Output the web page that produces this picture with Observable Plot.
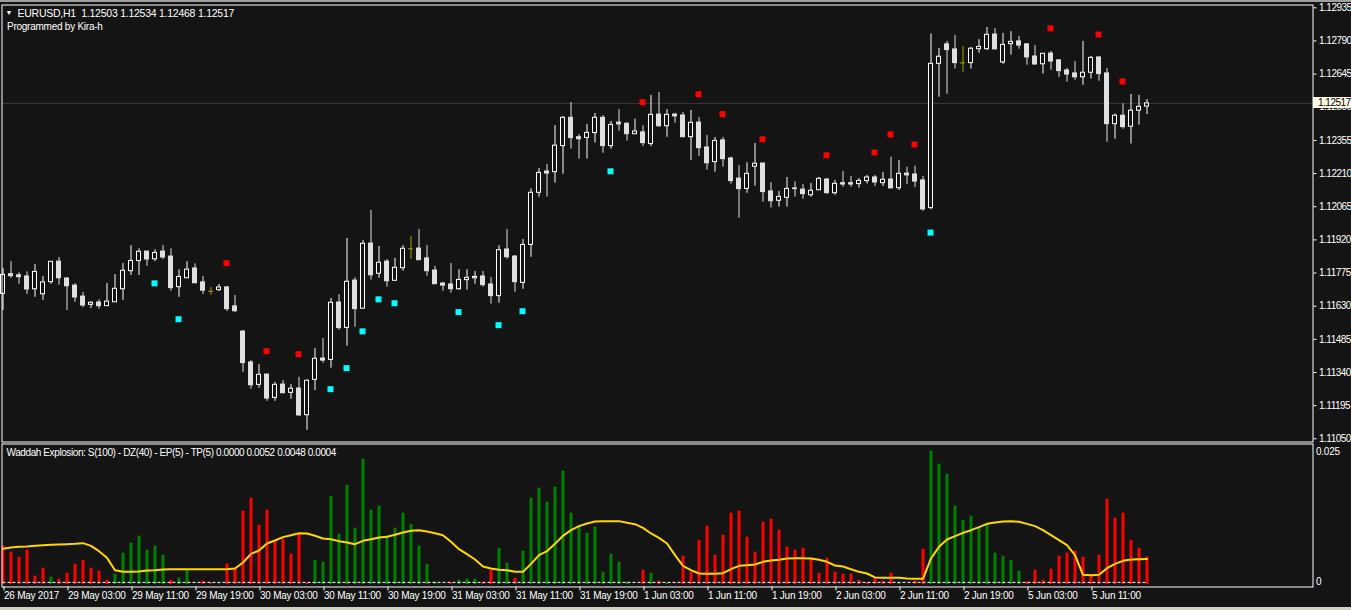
<!DOCTYPE html>
<html><head><meta charset="utf-8">
<script src="https://cdn.jsdelivr.net/npm/d3@7"></script>
<script src="https://cdn.jsdelivr.net/npm/@observablehq/plot@0.6"></script>
<style>
html,body{margin:0;padding:0;background:#141414;}
#wrap{position:relative;width:1351px;height:610px;overflow:hidden;background:#141414;}
#wrap svg{position:absolute;left:0;overflow:visible;}
#wrap svg text{letter-spacing:-0.25px;}
.topbar{position:absolute;left:0;top:0;width:1351px;height:2px;background:#a0a0a0;}
.bottombar{position:absolute;left:0;top:607px;width:1351px;height:3px;background:#d4d0c8;}
#pricetag{position:absolute;left:1313px;width:33px;height:11px;background:#fff8e4;color:#000;font-size:10px;line-height:11px;padding-left:5px;white-space:nowrap;letter-spacing:-0.5px;}
</style></head>
<body><div id="wrap"><div class="topbar"></div><div class="bottombar"></div></div>
<script>
// ---------- data ----------
const symbol = "EURUSD", period = "H1";
const open = [1.11684,1.11770,1.11765,1.11760,1.11704,1.11682,1.11735,1.11825,1.11751,1.11720,
1.11672,1.11636,1.11646,1.11630,1.11647,1.11704,1.11783,1.11827,1.11869,1.11835,
1.11869,1.11847,1.11713,1.11752,1.11795,1.11734,1.11695,1.11700,1.11712,1.11629,
1.11519,1.11384,1.11286,1.11331,1.11229,1.11287,1.11251,1.11270,1.11153,1.11308,
1.11401,1.11395,1.11646,1.11535,1.11742,1.11619,1.11904,1.11772,1.11825,1.11741,
1.11796,1.11881,1.11882,1.11839,1.11786,1.11729,1.11725,1.11704,1.11744,1.11752,
1.11760,1.11725,1.11674,1.11878,1.11847,1.11732,1.11898,1.12126,1.12219,1.12216,
1.12330,1.12454,1.12369,1.12366,1.12387,1.12454,1.12330,1.12433,1.12428,1.12382,
1.12390,1.12339,1.12468,1.12417,1.12468,1.12464,1.12369,1.12433,1.12324,1.12260,
1.12355,1.12276,1.12188,1.12143,1.12240,1.12254,1.12132,1.12091,1.12104,1.12145,
1.12140,1.12115,1.12137,1.12184,1.12124,1.12168,1.12168,1.12164,1.12177,1.12193,
1.12168,1.12184,1.12146,1.12210,1.12206,1.12180,1.12059,1.12690,1.12775,1.12753,
1.12694,1.12693,1.12754,1.12754,1.12818,1.12696,1.12776,1.12788,1.12775,1.12722,
1.12688,1.12735,1.12705,1.12661,1.12648,1.12631,1.12651,1.12718,1.12648,1.12426,
1.12463,1.12415,1.12485,1.12503];
const high = [1.11794,1.11825,1.11776,1.11780,1.11812,1.11760,1.11824,1.11843,1.11755,1.11728,
1.11690,1.11649,1.11658,1.11729,1.11768,1.11817,1.11895,1.11881,1.11869,1.11877,
1.11895,1.11881,1.11789,1.11825,1.11815,1.11760,1.11712,1.11725,1.11716,1.11677,
1.11524,1.11392,1.11375,1.11331,1.11297,1.11305,1.11287,1.11319,1.11308,1.11445,
1.11489,1.11664,1.11681,1.11926,1.11754,1.11917,1.12049,1.11891,1.11834,1.11839,
1.11895,1.11935,1.11965,1.11895,1.11804,1.11734,1.11817,1.11790,1.11790,1.11782,
1.11782,1.11755,1.11895,1.11965,1.11852,1.11922,1.12143,1.12232,1.12250,1.12420,
1.12460,1.12521,1.12381,1.12425,1.12473,1.12464,1.12438,1.12490,1.12432,1.12448,
1.12419,1.12552,1.12565,1.12490,1.12473,1.12477,1.12486,1.12455,1.12377,1.12368,
1.12368,1.12282,1.12245,1.12257,1.12342,1.12255,1.12171,1.12132,1.12193,1.12174,
1.12162,1.12167,1.12193,1.12188,1.12180,1.12219,1.12197,1.12188,1.12202,1.12202,
1.12215,1.12282,1.12267,1.12238,1.12242,1.12197,1.12821,1.12757,1.12788,1.12814,
1.12766,1.12761,1.12796,1.12849,1.12844,1.12823,1.12831,1.12810,1.12779,1.12770,
1.12735,1.12744,1.12709,1.12670,1.12700,1.12788,1.12722,1.12718,1.12670,1.12471,
1.12515,1.12556,1.12552,1.12534];
const low = [1.11611,1.11752,1.11726,1.11681,1.11669,1.11655,1.11726,1.11722,1.11611,1.11647,
1.11624,1.11620,1.11617,1.11630,1.11647,1.11655,1.11764,1.11764,1.11804,1.11825,
1.11834,1.11695,1.11669,1.11752,1.11730,1.11681,1.11677,1.11694,1.11607,1.11602,
1.11341,1.11267,1.11271,1.11214,1.11214,1.11249,1.11223,1.11147,1.11087,1.11261,
1.11381,1.11359,1.11525,1.11455,1.11538,1.11619,1.11744,1.11752,1.11713,1.11741,
1.11783,1.11835,1.11831,1.11761,1.11726,1.11695,1.11687,1.11700,1.11700,1.11726,
1.11713,1.11639,1.11643,1.11835,1.11691,1.11704,1.11844,1.12107,1.12107,1.12168,
1.12207,1.12317,1.12273,1.12273,1.12343,1.12299,1.12317,1.12395,1.12352,1.12382,
1.12328,1.12328,1.12412,1.12369,1.12430,1.12369,1.12268,1.12285,1.12225,1.12216,
1.12238,1.12164,1.12015,1.12124,1.12155,1.12085,1.12059,1.12063,1.12063,1.12107,
1.12098,1.12107,1.12137,1.12120,1.12115,1.12150,1.12150,1.12146,1.12164,1.12153,
1.12153,1.12145,1.12136,1.12162,1.12149,1.12045,1.12052,1.12544,1.12557,1.12667,
1.12653,1.12667,1.12736,1.12748,1.12753,1.12688,1.12728,1.12754,1.12684,1.12683,
1.12645,1.12662,1.12631,1.12610,1.12618,1.12596,1.12623,1.12614,1.12347,1.12360,
1.12404,1.12339,1.12422,1.12468];
const close = [1.11767,1.11761,1.11757,1.11703,1.11780,1.11734,1.11824,1.11752,1.11717,1.11668,
1.11633,1.11645,1.11630,1.11650,1.11706,1.11785,1.11828,1.11868,1.11834,1.11863,
1.11843,1.11709,1.11758,1.11790,1.11730,1.11698,1.11695,1.11712,1.11617,1.11608,
1.11381,1.11284,1.11330,1.11226,1.11286,1.11249,1.11269,1.11152,1.11304,1.11400,
1.11392,1.11645,1.11534,1.11737,1.11617,1.11903,1.11765,1.11820,1.11739,1.11798,
1.11881,1.11881,1.11831,1.11783,1.11726,1.11720,1.11704,1.11745,1.11754,1.11758,
1.11722,1.11674,1.11875,1.11844,1.11735,1.11898,1.12126,1.12213,1.12210,1.12332,
1.12454,1.12365,1.12360,1.12388,1.12454,1.12330,1.12423,1.12425,1.12382,1.12394,
1.12343,1.12467,1.12417,1.12467,1.12460,1.12369,1.12432,1.12321,1.12255,1.12353,
1.12273,1.12177,1.12142,1.12209,1.12253,1.12129,1.12089,1.12108,1.12143,1.12142,
1.12120,1.12135,1.12187,1.12124,1.12165,1.12162,1.12162,1.12178,1.12193,1.12171,
1.12183,1.12145,1.12209,1.12202,1.12175,1.12053,1.12690,1.12721,1.12750,1.12693,
1.12694,1.12756,1.12764,1.12817,1.12753,1.12773,1.12786,1.12770,1.12718,1.12687,
1.12734,1.12700,1.12658,1.12643,1.12631,1.12651,1.12716,1.12645,1.12426,1.12463,
1.12413,1.12485,1.12502,1.12517];

// signal squares (bar index, price)
const sellIdx = [28,33,37,80,87,90,95,103,109,111,114,131,137,140];
const sellPrice = [1.11818,1.11433,1.11420,1.12522,1.12557,1.12470,1.12360,1.12290,1.12302,1.12381,1.12337,1.12845,1.12818,1.12613];
const buyIdx = [19,22,41,43,45,47,49,57,62,65,76,116];
const buyPrice = [1.11730,1.11573,1.11267,1.11359,1.11520,1.11660,1.11643,1.11604,1.11547,1.11608,1.12220,1.11952];

// Waddah Attar Explosion
const trendUp = [0,0,0,0,0,0,0.00138,0,0,0,
0,0,0,0,0.00194,0.00589,0.00777,0.00909,0.00645,0.00721,
0.00551,0,0.00119,0.00288,0,0,0,0.0001,0,0,
0,0,0,0,0,0,0,0,0,0.00457,
0.0042,0.0166,0.00946,0.01867,0.01059,0.02356,0.01397,0.01473,0.00909,0.01059,
0.01341,0.01134,0.00721,0.00382,0.00044,0,0,0.00081,0.001,0.001,
0,0,0.00683,0.00401,0,0.00627,0.01623,0.01811,0.01548,0.0183,
0.0213,0.01341,0.01097,0.00965,0.01078,0.00232,0.0057,0.0042,0.00044,0,
0,0.00213,0,0.00025,0,0,0,0,0,0,
0,0,0,0,0,0,0,0,0,0,
0,0,0,0,0,0,0,0,0,0,
0,0,0.00025,0,0,0,0.02506,0.02262,0.02074,0.01473,
0.01209,0.01285,0.01078,0.01134,0.00589,0.00533,0.00457,0.00251,0,0,
0,0,0,0,0,0,0,0,0,0,
0,0,0,0];
const trendDown = [0.00721,0.00608,0.00514,0.00645,0.00157,0.00307,0,0.001,0.00213,0.00382,
0.00457,0.00307,0.00251,0.00081,0,0,0,0,0,0,
0,0.00081,0,0,0,0.00063,0.00025,0,0.00382,0.00307,
0.01379,0.01623,0.01115,0.01397,0.00833,0.00852,0.0057,0.00946,0.00025,0,
0,0,0,0,0,0,0,0,0,0,
0,0,0,0,0,0,0.00025,0,0,0,
0.00025,0.00269,0,0,0.00119,0,0,0,0,0,
0,0,0,0,0,0,0,0,0,0,
0.00269,0,0.00063,0,0.0001,0.00533,0.00232,0.00833,0.01097,0.00551,
0.00927,0.01341,0.01379,0.0089,0.00608,0.01172,0.01228,0.01021,0.00702,0.00645,
0.00683,0.00495,0.00213,0.00495,0.00232,0.00194,0.00194,0.00081,0.00025,0.00119,
0.00063,0.00213,0,0,0.00063,0.00664,0,0,0,0,
0,0,0,0,0,0,0,0,0.00044,0.00269,
0.00081,0.00288,0.00533,0.00589,0.00627,0.00514,0.00175,0.00551,0.01604,0.01247,
0.01341,0.00833,0.00683,0.0052];
const explosion = [0.0067,0.00696,0.00708,0.00714,0.00727,0.00739,0.00746,0.00752,0.00758,0.00764,
0.00777,0.00727,0.00627,0.00501,0.00269,0.00238,0.00238,0.00244,0.00263,0.00269,
0.00282,0.00288,0.00288,0.00288,0.00288,0.00288,0.00288,0.00288,0.00288,0.00301,
0.00414,0.00576,0.00639,0.00771,0.00827,0.0089,0.00927,0.00965,0.00959,0.00915,
0.00865,0.00852,0.00815,0.0079,0.00758,0.00821,0.00852,0.00884,0.00896,0.00934,
0.00977,0.01009,0.01021,0.00996,0.00965,0.00927,0.00802,0.00664,0.0057,0.0047,
0.00338,0.00301,0.00276,0.00269,0.00238,0.00238,0.00388,0.00551,0.00627,0.00764,
0.00915,0.01021,0.01097,0.01147,0.01184,0.01191,0.01191,0.01191,0.01159,0.01134,
0.01065,0.00959,0.00877,0.00771,0.00551,0.00351,0.00269,0.00207,0.00201,0.00201,
0.00213,0.00288,0.00351,0.00363,0.00376,0.00426,0.00451,0.00464,0.00489,0.00495,
0.00495,0.00489,0.00464,0.00426,0.00357,0.00338,0.00288,0.00238,0.00207,0.00132,
0.00125,0.00125,0.00125,0.00113,0.00107,0.00107,0.00489,0.00708,0.00846,0.00909,
0.00971,0.01021,0.01078,0.0114,0.01165,0.01184,0.01191,0.01178,0.0114,0.01097,
0.01021,0.00927,0.00833,0.00739,0.00551,0.00182,0.00175,0.00182,0.00307,0.00388,
0.00445,0.0047,0.00476,0.0048];
const deadZone = 0.0004;
const indName = "Waddah Explosion: S(100) - DZ(40) - EP(5) - TP(5)";

// axes
const priceTicks = [1.11050,1.11195,1.11340,1.11485,1.11630,1.11775,1.11920,1.12065,1.12210,1.12355,1.12500,1.12645,1.12790,1.12935];
const timeTickIdx = [0,8,16,24,32,40,48,56,64,72,80,88,96,104,112,120,128,136];
const timeTickLabels = ["26 May 2017","29 May 03:00","29 May 11:00","29 May 19:00","30 May 03:00","30 May 11:00","30 May 19:00","31 May 03:00","31 May 11:00","31 May 19:00","1 Jun 03:00","1 Jun 11:00","1 Jun 19:00","2 Jun 03:00","2 Jun 11:00","2 Jun 19:00","5 Jun 03:00","5 Jun 11:00"];

// ---------- drawing ----------
const FONT = "'Liberation Sans', Arial, sans-serif";
const BG = "#141414", UP = "#ffffff", DOWN = "#e0e0e0", DOJI = "#a0a000";
const n = open.length;
const bars = d3.range(n).map(i => ({i, o: open[i], h: high[i], l: low[i], c: close[i]}));
const ups = bars.filter(d => d.c > d.o), downs = bars.filter(d => d.c < d.o), dojis = bars.filter(d => d.c === d.o);
const sells = sellIdx.map((i, k) => ({i, p: sellPrice[k]}));
const buys = buyIdx.map((i, k) => ({i, p: buyPrice[k]}));
const ind = d3.range(n).map(i => ({i, up: trendUp[i], dn: trendDown[i], ex: explosion[i]}));
const X = {type: "linear", domain: [0, n - 1], range: [2.5, 2.5 + 8 * (n - 1)], axis: null};
const HB = 2 / 8, HD = 2.5 / 8;
const style = {background: "transparent", color: "#fff", fontFamily: FONT, fontSize: "10px", overflow: "visible"};
const f5 = v => v.toFixed(5);

const header = `${symbol},${period}\u00a0 ${f5(open[n-1])} ${f5(high[n-1])} ${f5(low[n-1])} ${f5(close[n-1])}`;

const main = Plot.plot({
  width: 1351, height: 443,
  marginLeft: 1.5, marginRight: 38.5, marginTop: 4.5, marginBottom: 1.5,
  style,
  x: X,
  y: {domain: [1.11050, 1.12935], range: [438.3, 7.3], axis: null},
  marks: [
    Plot.ruleY([close[n - 1]], {stroke: "#3a3a3a"}),
    Plot.ruleX(ups, {x: "i", y1: "l", y2: "h", stroke: UP}),
    Plot.ruleX(downs, {x: "i", y1: "l", y2: "h", stroke: DOWN}),
    Plot.ruleX(dojis, {x: "i", y1: "l", y2: "h", stroke: DOJI}),
    Plot.rect(ups, {x1: d => d.i - HB, x2: d => d.i + HB, y1: "o", y2: "c", fill: BG, stroke: UP}),
    Plot.rect(downs, {x1: d => d.i - HB, x2: d => d.i + HB, y1: "o", y2: "c", fill: DOWN, stroke: DOWN}),
    Plot.ruleY(dojis, {y: "o", x1: d => d.i - HD, x2: d => d.i + HD, stroke: DOJI}),
    Plot.dot(sells, {x: "i", y: "p", symbol: "square", r: 3.39, fill: "#ff0000", dx: -0.5}),
    Plot.dot(buys, {x: "i", y: "p", symbol: "square", r: 3.39, fill: "#00ffff", dx: -0.5}),
    Plot.frame({stroke: "#fff"}),
    Plot.axisY(priceTicks, {anchor: "right", label: null, tickSize: 3, tickPadding: 3, tickFormat: f5, fontSize: 10}),
    Plot.text(["\u25BC"], {frameAnchor: "top-left", textAnchor: "start", lineAnchor: "middle", dx: 3.5, dy: 8, fontSize: 7, fill: "#fff"}),
    Plot.text([header], {frameAnchor: "top-left", textAnchor: "start", lineAnchor: "middle", dx: 15.5, dy: 8.5, fontSize: 10.5, fill: "#fff"}),
    Plot.text(["Programmed by Kira-h"], {frameAnchor: "top-left", textAnchor: "start", lineAnchor: "middle", dx: 5, dy: 21.5, fontSize: 10, fill: "#fff"})
  ]
});
main.style.top = "0px";

const indHeader = `${indName} ${trendUp[n-1].toFixed(4)} ${trendDown[n-1].toFixed(4)} ${explosion[n-1].toFixed(4)} ${deadZone.toFixed(4)}`;

const sub = Plot.plot({
  width: 1351, height: 167,
  marginLeft: 1.5, marginRight: 38.5, marginTop: 0.5, marginBottom: 23.5,
  style,
  x: X,
  y: {domain: [0, 0.025], range: [141, 8], axis: null},
  marks: [
    Plot.ruleX(ind.filter(d => d.up > 0), {x: "i", y1: 0, y2: "up", stroke: "#008000", strokeWidth: 3}),
    Plot.ruleX(ind.filter(d => d.dn > 0), {x: "i", y1: 0, y2: "dn", stroke: "#ff0000", strokeWidth: 3}),
    Plot.ruleY([deadZone], {x1: 0, x2: n - 1, stroke: "#fff", strokeDasharray: "3,2"}),
    Plot.line(ind, {x: "i", y: "ex", stroke: "#ffd700", strokeWidth: 2}),
    Plot.frame({stroke: "#fff"}),
    Plot.axisX(timeTickIdx, {anchor: "bottom", label: null, tickSize: 4, tickPadding: 1, textAnchor: "start", dx: 1,
      tickFormat: d => timeTickLabels[timeTickIdx.indexOf(d)], fontSize: 10}),
    Plot.axisY([0.025], {anchor: "right", label: null, tickSize: 0, tickPadding: 3, tickFormat: d => d.toFixed(3), fontSize: 10}),
    Plot.axisY([0], {anchor: "right", label: null, tickSize: 0, tickPadding: 3, dy: -3, tickFormat: d => String(d), fontSize: 10}),
    Plot.text([indHeader], {frameAnchor: "top-left", textAnchor: "start", lineAnchor: "middle", dx: 4.5, dy: 9, fontSize: 10, fill: "#fff"})
  ]
});
sub.style.top = "443px";

const wrap = document.getElementById("wrap");
wrap.appendChild(main);
wrap.appendChild(sub);

// tighter spacing on price labels and on the indicator header
d3.select(main).selectAll("g[aria-label='y-axis tick label'] text").style("letter-spacing", "-0.5px");
d3.select(sub).selectAll("g[aria-label='text'] text").style("letter-spacing", "-0.4px");

// current price tag on the price axis
const tag = document.createElement("div");
tag.id = "pricetag";
tag.style.fontFamily = FONT;
tag.textContent = f5(close[n - 1]);
tag.style.top = (main.scale("y").apply(close[n - 1]) - 5.5) + "px";
wrap.appendChild(tag);
</script>
</body></html>
